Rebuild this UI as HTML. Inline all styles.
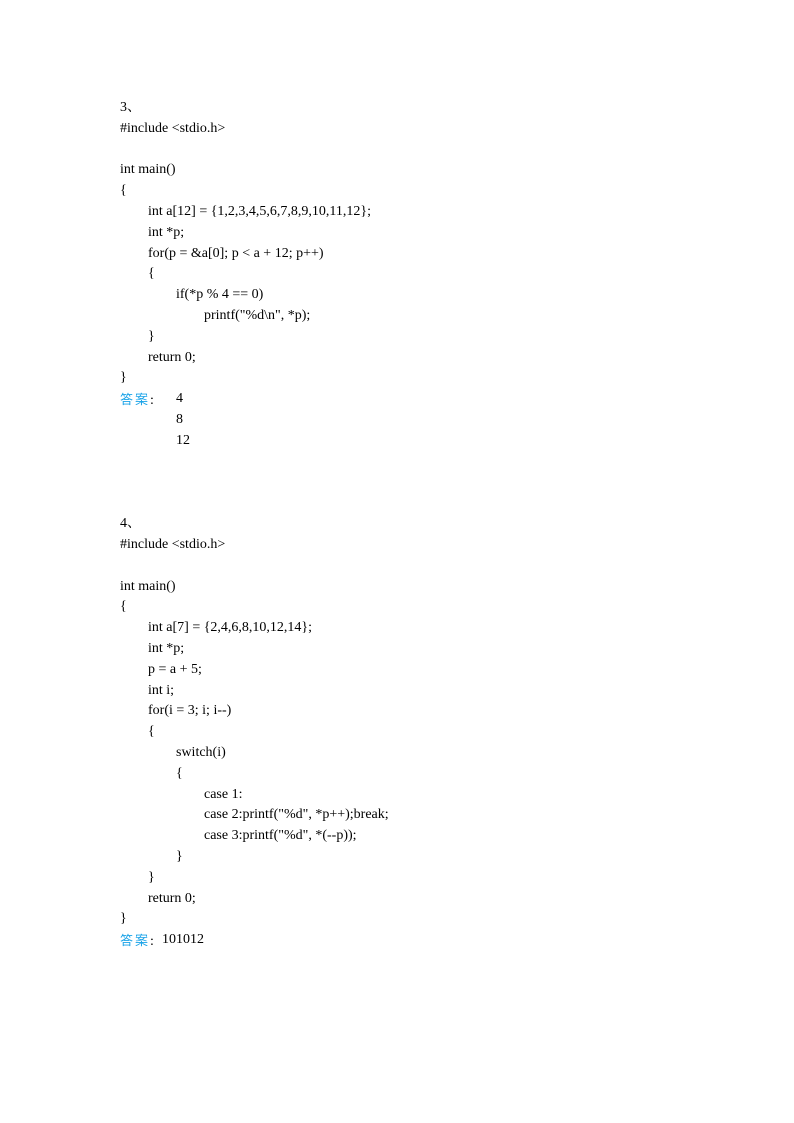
<!DOCTYPE html>
<html><head><meta charset="utf-8"><style>
body{margin:0;width:794px;height:1123px;background:#fff;position:relative;overflow:hidden}
.l{position:absolute;font-family:"Liberation Serif","Noto Serif CJK SC",serif;font-size:14px;line-height:20px;white-space:pre;color:#000}
.a{color:#1aa3e8;font-family:"Noto Sans CJK SC","WenQuanYi Zen Hei",sans-serif;font-size:13px;letter-spacing:2px}
</style></head><body>
<div class="l" style="left:120px;top:98px">3、</div>
<div class="l" style="left:120px;top:119px">#include &lt;stdio.h&gt;</div>
<div class="l" style="left:120px;top:160px">int main()</div>
<div class="l" style="left:120px;top:181px">{</div>
<div class="l" style="left:148px;top:202px">int a[12] = {1,2,3,4,5,6,7,8,9,10,11,12};</div>
<div class="l" style="left:148px;top:223px">int *p;</div>
<div class="l" style="left:148px;top:244px">for(p = &amp;a[0]; p &lt; a + 12; p++)</div>
<div class="l" style="left:148px;top:264px">{</div>
<div class="l" style="left:176px;top:285px">if(*p % 4 == 0)</div>
<div class="l" style="left:204px;top:306px">printf("%d\n", *p);</div>
<div class="l" style="left:148px;top:327px">}</div>
<div class="l" style="left:148px;top:348px">return 0;</div>
<div class="l" style="left:120px;top:368px">}</div>
<div class="l" style="left:120px;top:389px"><span class="a">答案</span>:</div>
<div class="l" style="left:176px;top:389px">4</div>
<div class="l" style="left:176px;top:410px">8</div>
<div class="l" style="left:176px;top:431px">12</div>

<div class="l" style="left:120px;top:514px">4、</div>
<div class="l" style="left:120px;top:535px">#include &lt;stdio.h&gt;</div>
<div class="l" style="left:120px;top:577px">int main()</div>
<div class="l" style="left:120px;top:597px">{</div>
<div class="l" style="left:148px;top:618px">int a[7] = {2,4,6,8,10,12,14};</div>
<div class="l" style="left:148px;top:639px">int *p;</div>
<div class="l" style="left:148px;top:660px">p = a + 5;</div>
<div class="l" style="left:148px;top:681px">int i;</div>
<div class="l" style="left:148px;top:701px">for(i = 3; i; i--)</div>
<div class="l" style="left:148px;top:722px">{</div>
<div class="l" style="left:176px;top:743px">switch(i)</div>
<div class="l" style="left:176px;top:764px">{</div>
<div class="l" style="left:204px;top:785px">case 1:</div>
<div class="l" style="left:204px;top:805px">case 2:printf("%d", *p++);break;</div>
<div class="l" style="left:204px;top:826px">case 3:printf("%d", *(--p));</div>
<div class="l" style="left:176px;top:847px">}</div>
<div class="l" style="left:148px;top:868px">}</div>
<div class="l" style="left:148px;top:889px">return 0;</div>
<div class="l" style="left:120px;top:909px">}</div>
<div class="l" style="left:120px;top:930px"><span class="a">答案</span>:</div>
<div class="l" style="left:162px;top:930px">101012</div>
</body></html>
